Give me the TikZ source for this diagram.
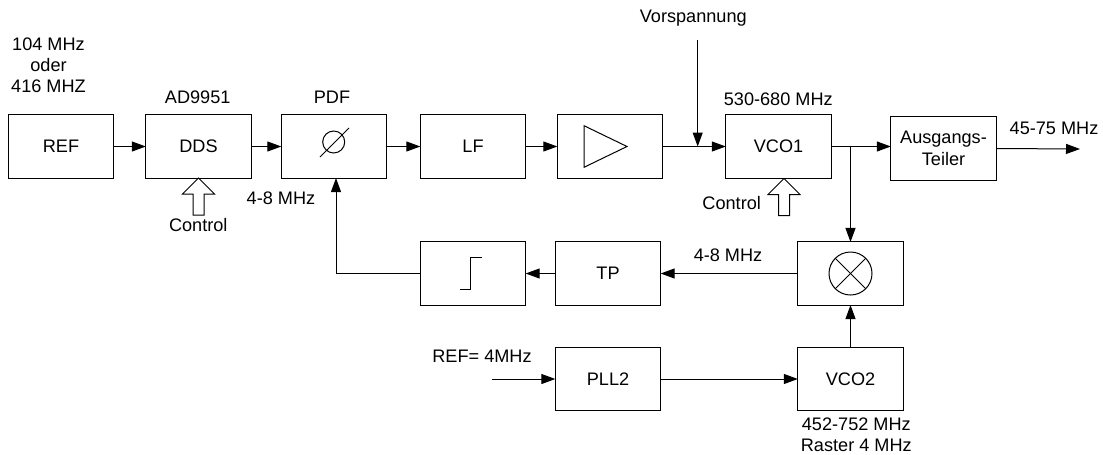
\documentclass[tikz,border=0pt]{standalone}
\usepackage{fontspec}
\setmainfont{Liberation Sans}
\usetikzlibrary{arrows.meta}
\newcommand{\ctrlpfeil}[1]{\draw (#1) -- ++(16,16) -- ++(-10.5,0) -- ++(0,21) -- ++(-11,0) -- ++(0,-21) -- ++(-10.5,0) -- cycle;}

\begin{document}
\begin{tikzpicture}[x=0.75pt,y=-0.75pt,line width=0.75pt,
  font=\fontsize{13.6}{16}\selectfont,
  block/.style={draw,minimum width=79pt,minimum height=47.3pt,inner sep=0pt,outer sep=0pt,align=center},
  lbl/.style={anchor=base,inner sep=0pt,align=center},
  pfeil/.style={-{Triangle[length=10.5pt,width=7.5pt]}}]
  \useasboundingbox (0,0) rectangle (1103,454);
  \node[block] (ref) at (61,146.5) {REF};
  \node[block] (dds) at (198.5,146.5) {DDS};
  \node[block] (pdf) at (334,146.5) {};
  \node[block] (lf) at (473,146.5) {LF};
  \node[block] (amp) at (610,146.5) {};
  \node[block] (vco1) at (778.5,146.5) {VCO1};
  \node[block] (teiler) at (943.5,148.5) {Ausgangs-\\Teiler};
  \node[block] (mix) at (850.5,273.5) {};
  \node[block] (tp) at (608,273.5) {TP};
  \node[block] (komp) at (473,273.5) {};
  \node[block] (pll2) at (608,379) {PLL2};
  \node[block] (vco2) at (850.5,379) {VCO2};
  \node[lbl] (reffreq) at (48.5,92.7) {104 MHz\\oder\\416 MHZ};
  \node[lbl] (adname) at (197.7,103) {AD9951};
  \node[lbl] (pdfname) at (332,103) {PDF};
  \node[lbl] (pdffreq) at (281,204.5) {4-8 MHz};
  \node[lbl] (ctrla) at (198.3,231.7) {Control};
  \node[lbl] (ctrlb) at (731.7,209) {Control};
  \node[lbl] (vorname) at (693.3,22.3) {Vorspannung};
  \node[lbl] (vcofreq) at (778.3,105) {530-680 MHz};
  \node[lbl] (ausfreq) at (1054,134.3) {45-75 MHz};
  \node[lbl] (mixfreq) at (728,261.7) {4-8 MHz};
  \node[lbl] (pllref) at (482,362.7) {REF= 4MHz};
  \node[lbl] (vco2freq) at (856.3,451.7) {452-752 MHz\\Raster 4 MHz};
  \coordinate (vor) at (697.7,40);
  \coordinate (vorj) at (697.7,146.5);
  \coordinate (abz) at (850.5,146.5);
  \coordinate (aus) at (1080,149);
  \coordinate (pllin) at (491.7,379);
  \coordinate (ctrlspitze) at (784,178.5);
  \draw[pfeil] (ref) -- (dds);
  \draw[pfeil] (dds) -- (pdf);
  \draw[pfeil] (pdf) -- (lf);
  \draw[pfeil] (lf) -- (amp);
  \draw[pfeil] (amp) -- (vco1);
  \draw[pfeil] (vor) -- (vorj);
  \draw[pfeil] (vco1.east) -- (teiler.west |- vco1.east);
  \draw[pfeil] (teiler.east) -- (aus);
  \draw[pfeil] (abz) -- (mix);
  \draw[pfeil] (mix) -- (tp);
  \draw[pfeil] (tp) -- (komp);
  \draw[pfeil] (komp.west) -| ([xshift=1.5pt]pdf.south);
  \draw[pfeil] (vco2) -- (mix);
  \draw[pfeil] (pllin) -- (pll2);
  \draw[pfeil] (pll2) -- (vco2);
  \ctrlpfeil{dds.south}
  \ctrlpfeil{ctrlspitze}
  \draw (333.7,142) circle (11);
  \draw (320,157) -- (349,128);
  \draw (584,125.7) -- (584,167.3) -- (627,146.5) -- cycle;
  \draw (mix.center) circle (21.5);
  \draw (mix.center) ++(-15.2,-15.2) -- ++(30.4,30.4);
  \draw (mix.center) ++(-15.2,15.2) -- ++(30.4,-30.4);
  \draw (460.3,289.3) -- (470.7,289.3) -- (470.7,257.7) -- (482,257.7);
\end{tikzpicture}
\end{document}
